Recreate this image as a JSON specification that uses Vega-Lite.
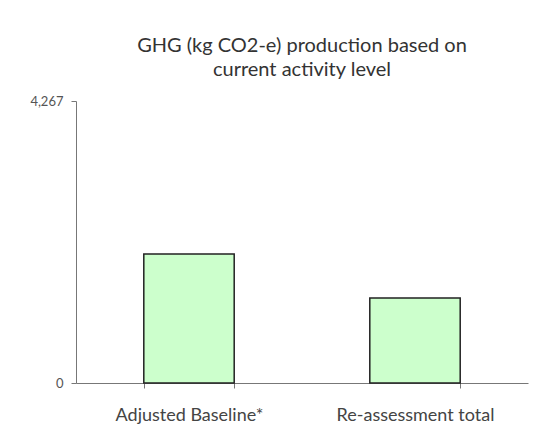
{
  "$schema": "https://vega.github.io/schema/vega-lite/v6.json",
  "width": 452,
  "height": 282,
  "autosize": {"type": "none"},
  "padding": {"left": 76, "top": 101, "right": 16, "bottom": 54},
  "background": "white",
  "title": {
    "text": ["GHG (kg CO2-e) production based on", "current activity level"],
    "font": "Lato",
    "fontSize": 20,
    "fontWeight": "normal",
    "color": "#333333",
    "anchor": "middle",
    "lineHeight": 24,
    "offset": 15
  },
  "data": {
    "values": [
      {"category": "Adjusted Baseline*", "value": 1952},
      {"category": "Re-assessment total", "value": 1286}
    ]
  },
  "mark": {"type": "bar", "fill": "#ccffcc", "stroke": "#222222", "strokeWidth": 1.5},
  "encoding": {
    "x": {
      "field": "category",
      "type": "nominal",
      "sort": null,
      "scale": {"paddingInner": 0.6, "paddingOuter": 0.3},
      "axis": {
        "title": null,
        "labelAngle": 0,
        "labelFont": "Lato",
        "labelFontSize": 18,
        "labelColor": "#444444",
        "labelPadding": 18,
        "tickBand": "extent",
        "tickSize": 5,
        "tickColor": "#777777",
        "domainColor": "#777777"
      }
    },
    "y": {
      "field": "value",
      "type": "quantitative",
      "scale": {"domain": [0, 4267]},
      "axis": {
        "title": null,
        "values": [0, 4267],
        "format": ",.0f",
        "grid": false,
        "labelFont": "Lato",
        "labelFontSize": 13,
        "labelColor": "#555555",
        "labelPadding": 8,
        "tickSize": 5,
        "tickColor": "#777777",
        "domainColor": "#777777"
      }
    }
  },
  "config": {"view": {"stroke": null}}
}
